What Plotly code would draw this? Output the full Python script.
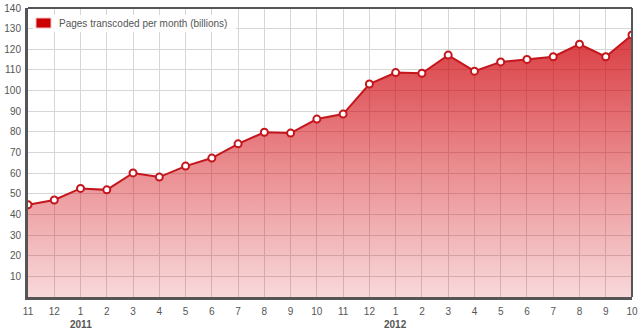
import plotly.graph_objects as go

months = ["11", "12", "1", "2", "3", "4", "5", "6", "7", "8", "9", "10",
          "11", "12", "1", "2", "3", "4", "5", "6", "7", "8", "9", "10"]
pages = [44.7, 47.0, 52.6, 51.9, 60.1, 58.1, 63.4, 67.3, 74.2, 79.8, 79.4, 86.2,
         88.6, 103.2, 108.7, 108.4, 117.2, 109.4, 113.9, 115.1, 116.4, 122.5, 116.4, 126.9]
years = ["2011", "2012"]
year_pos = [2, 14]
yticks = [10, 20, 30, 40, 50, 60, 70, 80, 90, 100, 110, 120, 130, 140]
series_name = "Pages transcoded per month (billions)"

x = list(range(len(pages)))
red = "#c4161c"

W, H = 640, 332
L, R, T, B = 28, 8, 8, 35
pw, ph = W - L - R, H - T - B


def px(v):
    return (v - L) / pw


def py(v):
    return (H - B - v) / ph


fig = go.Figure()
fig.add_trace(go.Scatter(
    x=x, y=pages, mode="lines+markers", fill="tozeroy",
    fillgradient=dict(type="vertical", start=0, stop=140,
                      colorscale=[[0, "rgba(210,0,10,0.15)"], [1, "rgba(205,0,5,0.82)"]]),
    line=dict(color=red, width=2),
    marker=dict(symbol="circle", size=7, color="white", line=dict(color=red, width=2)),
    showlegend=False, name=series_name, hoverinfo="x+y",
))

for yr, p in zip(years, year_pos):
    fig.add_annotation(x=p, y=0, xref="x", yref="y", text="<b>" + yr + "</b>",
                       showarrow=False, yshift=-27, font=dict(size=10, color="#555"))

# top and right border
fig.add_shape(type="line", xref="paper", yref="paper", x0=0, x1=1, y0=1, y1=1,
              line=dict(color="#555", width=2))
fig.add_shape(type="line", xref="paper", yref="paper", x0=1, x1=1, y0=0, y1=1,
              line=dict(color="#555", width=2))

# legend box
fig.add_shape(type="rect", xref="paper", yref="paper",
              x0=px(33), x1=px(236), y0=py(32), y1=py(15),
              fillcolor="rgba(255,255,255,0.9)", line=dict(width=0))
fig.add_shape(type="rect", xref="paper", yref="paper",
              x0=px(36), x1=px(51), y0=py(28), y1=py(18),
              fillcolor="#cc0000", line=dict(color="#f0c0c0", width=1))
fig.add_annotation(x=px(57), y=py(23.5), xref="paper", yref="paper", text=series_name,
                   showarrow=False, xanchor="left", yanchor="middle",
                   font=dict(size=10, color="#555"))

fig.update_layout(
    width=W, height=H,
    margin=dict(l=L, r=R, t=T, b=B),
    paper_bgcolor="white", plot_bgcolor="white",
    font=dict(family="Arial, Liberation Sans, sans-serif", size=10, color="#555"),
    xaxis=dict(range=[0, len(pages) - 1], tickvals=x, ticktext=months,
               showgrid=True, gridcolor="#d6d6d6", gridwidth=1,
               showline=True, linecolor="#555", linewidth=3,
               ticks="", ticklabelstandoff=3, zeroline=False, fixedrange=True,
               automargin=False),
    yaxis=dict(range=[0, 140], tickvals=yticks,
               showgrid=True, gridcolor="#d6d6d6", gridwidth=1,
               showline=True, linecolor="#555", linewidth=3,
               ticks="", ticklabelstandoff=2, zeroline=False, fixedrange=True,
               automargin=False),
    showlegend=False,
)

fig.write_html("out.html")
